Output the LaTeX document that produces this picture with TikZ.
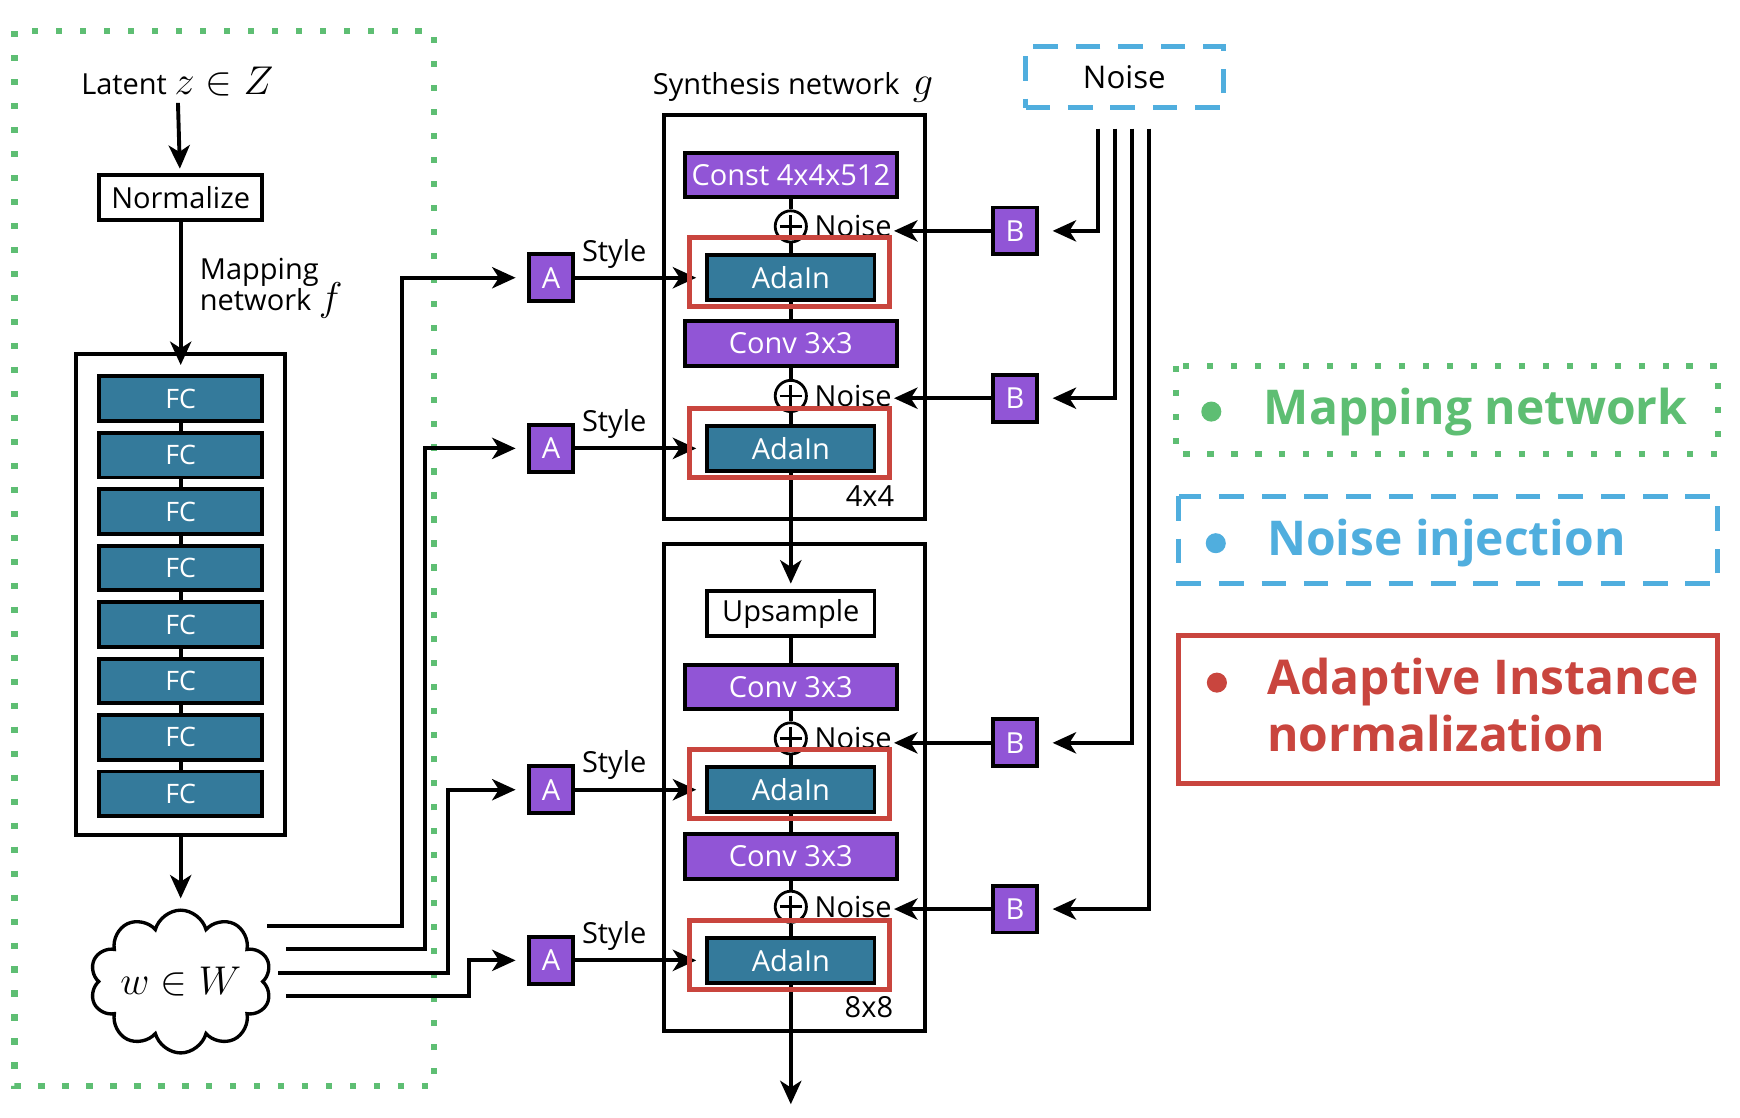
\documentclass[tikz,border=0pt]{standalone}
\usepackage{fix-cm}
\usepackage{fontspec}
\setmainfont{Open Sans}
\usetikzlibrary{arrows.meta,positioning,calc,shapes.symbols}

\definecolor{fcteal}{RGB}{52,122,155}
\definecolor{blockviolet}{RGB}{145,85,214}
\definecolor{adared}{RGB}{201,69,62}
\definecolor{mapgreen}{RGB}{94,190,115}
\definecolor{noiseblue}{RGB}{80,174,222}

\newcommand{\txt}{\fontsize{26}{28}\selectfont}
\newcommand{\mth}{\fontsize{36}{38}\selectfont}
\newcommand{\leg}{\fontsize{43}{51}\selectfont\bfseries}

\tikzset{
  wire/.style={line width=3.5pt},
  arr/.style={wire, -{Stealth[length=21pt, width=19pt, inset=6pt]}},
  plainbox/.style={draw, line width=3.5pt, fill=white, minimum width=146pt, minimum height=40pt, inner sep=0pt, font=\txt},
  fcbox/.style={plainbox, fill=fcteal, text=white, font=\fontsize{24}{26}\selectfont},
  adabox/.style={plainbox, fill=fcteal, text=white, minimum width=150pt},
  violetbox/.style={plainbox, fill=blockviolet, text=white, minimum width=190pt},
  abbox/.style={draw, line width=3.5pt, fill=blockviolet, text=white, minimum width=40pt, minimum height=42pt, inner sep=0pt, font=\txt},
  addnode/.style={circle, draw, line width=2.5pt, fill=white, minimum size=28pt, inner sep=0pt,
    path picture={\draw[line width=2.5pt] ([yshift=-4pt]path picture bounding box.north) -- ([yshift=4pt]path picture bounding box.south)
      ([xshift=4pt]path picture bounding box.west) -- ([xshift=-4pt]path picture bounding box.east);}},
  blockframe/.style={draw, line width=3.5pt, minimum width=234pt},
  adaframe/.style={draw=adared, line width=4.5pt},
  mapframe/.style={draw=mapgreen, line width=5.5pt, dash pattern=on 5.5pt off 16pt},
  noiseframe/.style={draw=noiseblue, line width=4.5pt, dash pattern=on 22pt off 16pt},
  lbl/.style={font=\txt, inner sep=2pt},
  legdot/.style={circle, minimum size=18pt, inner sep=0pt},
  legtext/.style={font=\leg, inner sep=0pt, anchor=west, align=left},
}

\begin{document}
\begin{tikzpicture}[x=1pt, y=-1pt]
\useasboundingbox (0,0) rectangle (1560,1002);

% mapping network f
\draw[mapframe] (13,28) rectangle (389,974);
\node[lbl] (latent) at (159,73) {Latent {\mth$z\in Z$}};
\node[plainbox] (norm) at (162,177) {Normalize};
\node[lbl, anchor=west, align=left] (maplbl) at (177,255) {Mapping\\network {\mth$\smash{f}$}};
\node[draw, line width=3.5pt, minimum width=187pt, minimum height=432pt] (mapbox) at (162,533) {};
\foreach \i in {1,...,8}
  \node[fcbox] (fc\i) at (162, 306.9+50.6*\i) {FC};
\foreach \i [count=\j from 2] in {1,...,7}
  \draw[wire] (fc\i) -- (fc\j);
\node[cloud, cloud puffs=10, cloud ignores aspect, draw, line width=3pt, minimum width=163pt, minimum height=128pt, inner sep=0pt] (wcloud) at (162,880) {\smash{\makebox[0pt]{\raisebox{-12pt}{\mth$w\in W$}}}};

\draw[arr, shorten <=4pt, shorten >=4pt] (latent) -- (norm);
\draw[arr, shorten >=-12pt] (norm) -- (mapbox);
\draw[arr, shorten >=9pt] (mapbox) -- (wcloud);

% synthesis network g
\node[lbl] (synlbl) at (711,78) {Synthesis network\hspace{12pt}{\mth$g$}};
\node[blockframe, minimum height=362pt] (blk1) at (712,284) {};
\node[blockframe, minimum height=436pt] (blk2) at (712,706) {};

\node[violetbox] (const) at (709,157) {Const 4x4x512};
\node[addnode] (p1) at (709,203) {};
\node[adabox] (ada1) at (709,249) {AdaIn};
\node[violetbox] (conv1) at (709,308) {Conv 3x3};
\node[addnode] (p2) at (709,355) {};
\node[adabox] (ada2) at (709,402) {AdaIn};
\node[lbl] (res1) at (780,445) {4x4};

\node[plainbox, minimum width=150pt] (ups) at (709,550) {Upsample};
\node[violetbox] (conv2) at (709,616) {Conv 3x3};
\node[addnode] (p3) at (709,662) {};
\node[adabox] (ada3) at (709,708) {AdaIn};
\node[violetbox] (conv3) at (709,768) {Conv 3x3};
\node[addnode] (p4) at (709,813) {};
\node[adabox] (ada4) at (709,861) {AdaIn};
\node[lbl] (res2) at (779,903) {8x8};
\coordinate (out) at (709,990);

\draw[wire] (const) -- (p1) -- (ada1) -- (conv1) -- (p2) -- (ada2);
\draw[arr, shorten >=5pt] (ada2) -- (ups);
\draw[wire] (ups) -- (conv2) -- (p3) -- (ada3) -- (conv3) -- (p4) -- (ada4);
\draw[arr] (ada4) -- (out);

\foreach \k in {1,...,4}
  \node[lbl, right=4pt of p\k] (n\k) {Noise};

% styles A and noise B
\foreach \k/\y in {1/249, 2/402, 3/708, 4/861}
  \node[abbox] (a\k) at (494,\y) {A};
\foreach \k/\y in {1/207, 2/357, 3/666, 4/815}
  \node[abbox] (b\k) at (910,\y) {B};
\node[noiseframe, font=\fontsize{28}{30}\selectfont, minimum width=177pt, minimum height=55pt] (noise) at (1008,69) {Noise};

\foreach \k/\dx/\dy/\cx in {1/2/-50/-112, 2/19/-29/-91, 3/12/-8/-71, 4/19/13/-52}
  \draw[arr, shorten >=10pt] ($(wcloud.east)+(\dx,\dy)$) -| ([xshift=\cx pt]a\k.west) -- (a\k);
\foreach \k in {1,...,4}
  \draw[arr, shorten >=8pt] (a\k) -- node[lbl, above=5pt, pos=0.3] (sty\k) {Style} (ada\k);
\foreach \k/\dx in {1/-24, 2/-8, 3/7, 4/22}
  \draw[arr, shorten <=16.5pt, shorten >=12pt] ([xshift=\dx pt]noise.south) |- (b\k);
\foreach \k in {1,...,4}
  \draw[arr] (b\k) -- (b\k -| n\k.east);

% AdaIn frames
\foreach \k in {1,...,4}
  \draw[adaframe] ([shift={(-14,-14)}]ada\k.north west) rectangle ([shift={(12,4)}]ada\k.south east);

% legend
\draw[mapframe] (1054,328) rectangle (1540,407);
\node[legdot, fill=mapgreen] (dot1) at (1086,369) {};
\node[legtext, text=mapgreen] (leg1) at (1133,369) {Mapping network};
\draw[noiseframe] (1057,445) rectangle (1540,523);
\node[legdot, fill=noiseblue] (dot2) at (1090,487) {};
\node[legtext, text=noiseblue] (leg2) at (1136,487) {Noise injection};
\draw[adaframe] (1057,570) rectangle (1540,702);
\node[legdot, fill=adared] (dot3) at (1091,612) {};
\node[legtext, text=adared] (leg3) at (1136,632) {Adaptive Instance\\normalization};
\end{tikzpicture}
\end{document}
